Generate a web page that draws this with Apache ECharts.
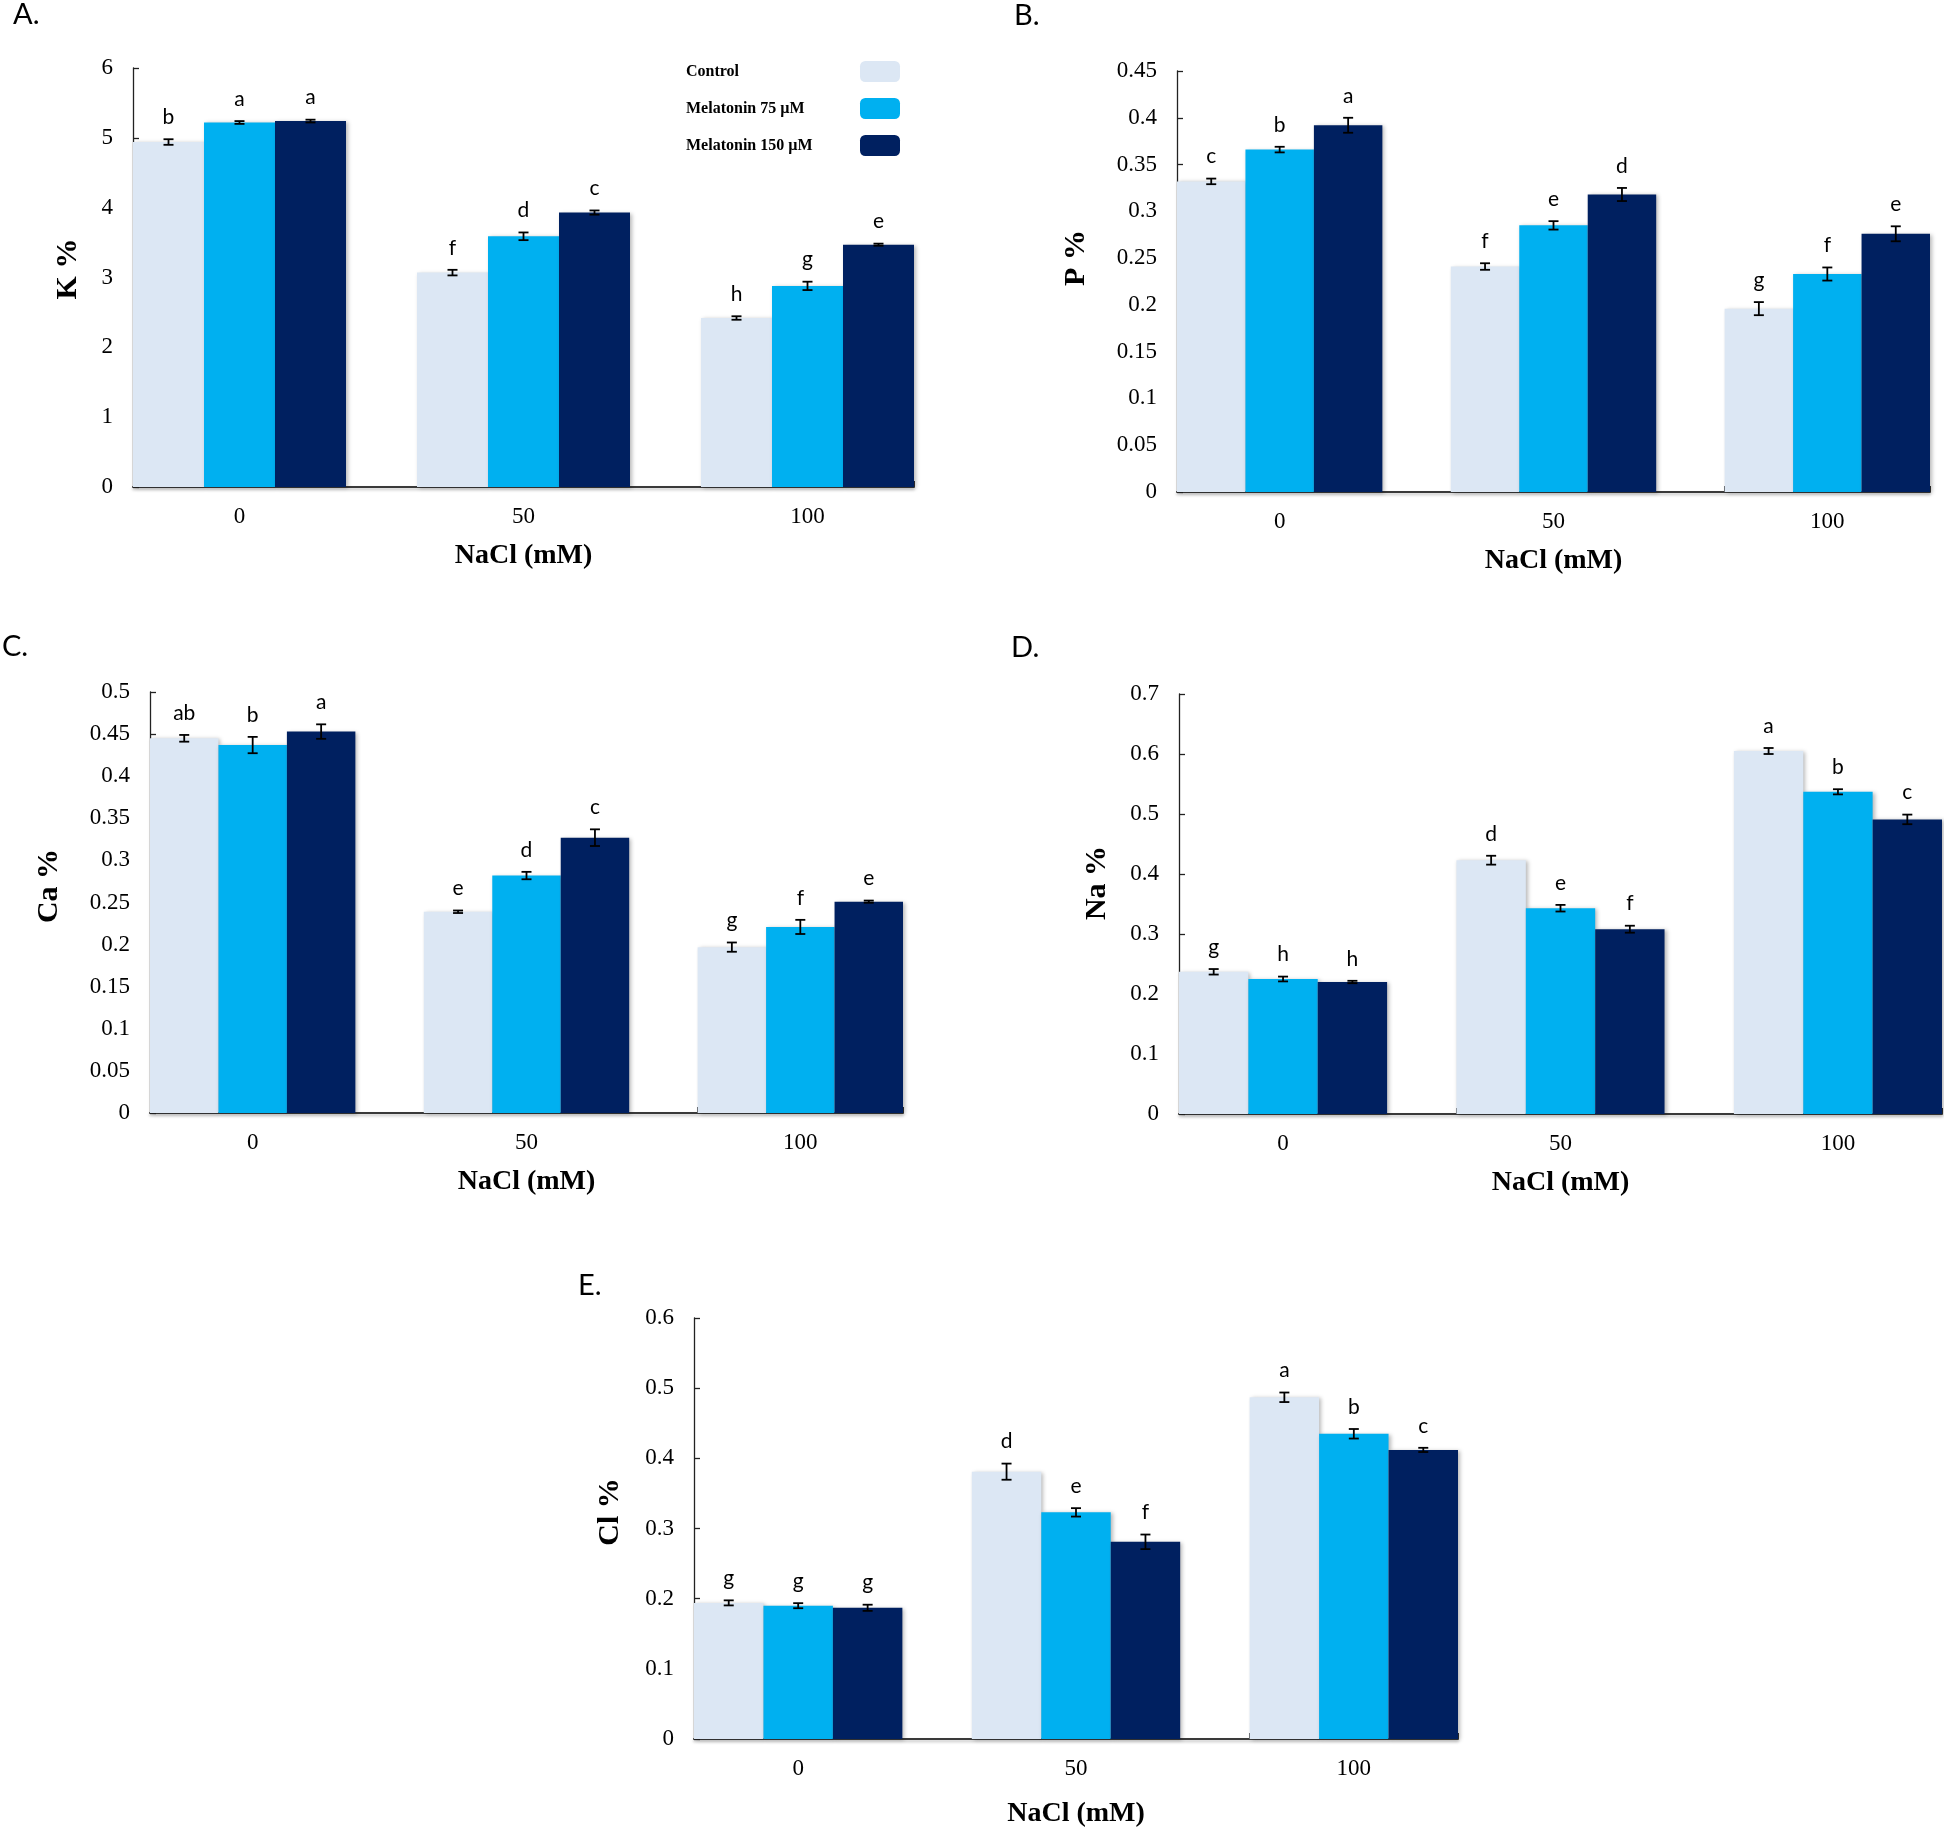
<!DOCTYPE html>
<html>
<head>
<meta charset="utf-8">
<script src="https://cdn.jsdelivr.net/npm/echarts@6.0.0/dist/echarts.min.js"></script>
<style>
html,body{margin:0;padding:0;background:#fff;}
#chart{width:1944px;height:1832px;}
</style>
</head>
<body>
<div id="chart"></div>
<script>
// ---------- data ----------
const xTickLabels = ['0', '50', '100'];           // NaCl (mM)
const seriesNames = ['Control', 'Melatonin 75 µM', 'Melatonin 150 µM'];

// K %
const K_control = [4.94, 3.07, 2.42];
const K_mel75   = [5.22, 3.59, 2.88];
const K_mel150  = [5.24, 3.93, 3.47];
const K_errControl = [0.04, 0.04, 0.025];
const K_errMel75   = [0.02, 0.055, 0.06];
const K_errMel150  = [0.02, 0.03, 0.015];
const K_letControl = ['b', 'f', 'h'];
const K_letMel75   = ['a', 'd', 'g'];
const K_letMel150  = ['a', 'c', 'e'];

// P %
const P_control = [0.332, 0.241, 0.196];
const P_mel75   = [0.366, 0.285, 0.233];
const P_mel150  = [0.392, 0.318, 0.276];
const P_errControl = [0.003, 0.0035, 0.007];
const P_errMel75   = [0.003, 0.0045, 0.007];
const P_errMel150  = [0.008, 0.007, 0.008];
const P_letControl = ['c', 'f', 'g'];
const P_letMel75   = ['b', 'e', 'f'];
const P_letMel150  = ['a', 'd', 'e'];

// Ca %
const Ca_control = [0.445, 0.239, 0.197];
const Ca_mel75   = [0.437, 0.282, 0.221];
const Ca_mel150  = [0.453, 0.327, 0.251];
const Ca_errControl = [0.004, 0.0015, 0.0055];
const Ca_errMel75   = [0.0097, 0.0044, 0.0084];
const Ca_errMel150  = [0.0086, 0.0099, 0.0013];
const Ca_letControl = ['ab', 'e', 'g'];
const Ca_letMel75   = ['b', 'd', 'f'];
const Ca_letMel150  = ['a', 'c', 'e'];

// Na %
const Na_control = [0.237, 0.423, 0.605];
const Na_mel75   = [0.225, 0.343, 0.537];
const Na_mel150  = [0.220, 0.308, 0.491];
const Na_errControl = [0.0046, 0.0074, 0.005];
const Na_errMel75   = [0.004, 0.0055, 0.0043];
const Na_errMel150  = [0.002, 0.0058, 0.008];
const Na_letControl = ['g', 'd', 'a'];
const Na_letMel75   = ['h', 'e', 'b'];
const Na_letMel150  = ['h', 'f', 'c'];

// Cl %
const Cl_control = [0.194, 0.381, 0.487];
const Cl_mel75   = [0.190, 0.323, 0.435];
const Cl_mel150  = [0.187, 0.281, 0.412];
const Cl_errControl = [0.0036, 0.0115, 0.0068];
const Cl_errMel75   = [0.0036, 0.006, 0.0068];
const Cl_errMel150  = [0.0044, 0.0104, 0.003];
const Cl_letControl = ['g', 'd', 'a'];
const Cl_letMel75   = ['g', 'e', 'b'];
const Cl_letMel150  = ['g', 'f', 'c'];

// y-axis ranges / tick intervals
const yMaxes = [6, 0.45, 0.5, 0.7, 0.6];
const yIntervals = [1, 0.05, 0.05, 0.1, 0.1];
const yNames = ['K %', 'P %', 'Ca %', 'Na %', 'Cl %'];
const panelTags = ['A.', 'B.', 'C.', 'D.', 'E.'];

// ---------- layout / style ----------
const colors = ['#DCE7F4', '#00B0F0', '#002060'];
const SERIF = '"Liberation Serif", "Times New Roman", serif';
const SANS = 'Lato, "Open Sans", sans-serif';
const HALF = 0.375;   // half group width in category units
const layouts = [
  {grid: {left: 133, top: 68, width: 781, height: 419}, yNamePos: [68, 269], tagPos: [13, 0], nameGap: 55},
  {grid: {left: 1177, top: 71, width: 753, height: 421}, yNamePos: [1076, 258], tagPos: [1014, 1], nameGap: 55},
  {grid: {left: 150, top: 692, width: 753, height: 421}, yNamePos: [49, 886], tagPos: [2, 632], nameGap: 55},
  {grid: {left: 1179, top: 694, width: 763, height: 420}, yNamePos: [1097, 883], tagPos: [1011, 633], nameGap: 55},
  {grid: {left: 694, top: 1318, width: 764, height: 421}, yNamePos: [610, 1512], tagPos: [578, 1271], nameGap: 61}
];
const panelData = [
  {vals: [K_control, K_mel75, K_mel150], errs: [K_errControl, K_errMel75, K_errMel150], lets: [K_letControl, K_letMel75, K_letMel150]},
  {vals: [P_control, P_mel75, P_mel150], errs: [P_errControl, P_errMel75, P_errMel150], lets: [P_letControl, P_letMel75, P_letMel150]},
  {vals: [Ca_control, Ca_mel75, Ca_mel150], errs: [Ca_errControl, Ca_errMel75, Ca_errMel150], lets: [Ca_letControl, Ca_letMel75, Ca_letMel150]},
  {vals: [Na_control, Na_mel75, Na_mel150], errs: [Na_errControl, Na_errMel75, Na_errMel150], lets: [Na_letControl, Na_letMel75, Na_letMel150]},
  {vals: [Cl_control, Cl_mel75, Cl_mel150], errs: [Cl_errControl, Cl_errMel75, Cl_errMel150], lets: [Cl_letControl, Cl_letMel75, Cl_letMel150]}
];

const grids = [], xAxes = [], yAxes = [], series = [], graphics = [];

layouts.forEach((L, p) => {
  grids.push(Object.assign({containLabel: false, outerBoundsMode: 'none'}, L.grid));
  xAxes.push({
    type: 'value', gridIndex: p, min: -HALF, max: xTickLabels.length - 1 + HALF,
    splitLine: {show: false},
    axisLine: {show: true, onZero: false, lineStyle: {color: '#3a3a3a', width: 2, shadowColor: 'rgba(0,0,0,0.25)', shadowBlur: 3, shadowOffsetY: 2}},
    axisTick: {show: true, inside: true, length: 6, lineStyle: {color: '#333'},
      customValues: [-HALF, 1 - HALF, 2 - HALF, 2 + HALF]},
    axisLabel: {customValues: [0, 1, 2], formatter: v => xTickLabels[Math.round(v)],
      fontFamily: SERIF, fontSize: 23, color: '#000', margin: 18},
    name: 'NaCl (mM)', nameLocation: 'middle', nameGap: L.nameGap,
    nameTextStyle: {fontFamily: SERIF, fontWeight: 'bold', fontSize: 28, color: '#000'}
  });
  yAxes.push({
    type: 'value', gridIndex: p, min: 0, max: yMaxes[p], interval: yIntervals[p],
    splitLine: {show: false},
    axisLine: {show: true, onZero: false, lineStyle: {color: '#222', width: 1.3}},
    axisTick: {show: true, inside: true, length: 6, lineStyle: {color: '#222', width: 1.3}},
    axisLabel: {fontFamily: SERIF, fontSize: 23, color: '#000', margin: 20}
  });
  const D = panelData[p];
  D.vals.forEach((arr, s) => {
    series.push({
      type: 'bar', name: seriesNames[s], xAxisIndex: p, yAxisIndex: p,
      barWidth: '25%', barGap: '0%',
      data: arr.map((v, j) => [j, v]),
      itemStyle: {color: colors[s], shadowColor: 'rgba(0,0,0,0.28)', shadowBlur: 4, shadowOffsetX: 2, shadowOffsetY: 1},
      emphasis: {disabled: true}, silent: true, z: 2
    });
  });
  // error bars + significance letters
  const items = [];
  D.vals.forEach((arr, s) => arr.forEach((v, j) => items.push([j, s, v, D.errs[s][j]])));
  const letters = [];
  D.vals.forEach((arr, s) => arr.forEach((v, j) => letters.push(D.lets[s][j])));
  series.push({
    type: 'custom', xAxisIndex: p, yAxisIndex: p, z: 5, silent: true,
    data: items,
    renderItem: (params, api) => {
      const xv = api.value(0) + (api.value(1) - 1) * 0.25;
      const v = api.value(2), e = api.value(3);
      const t = api.coord([xv, v + e]);
      const b = api.coord([xv, v - e]);
      const cap = 5;
      const st = {stroke: '#000', lineWidth: 1.8};
      return {type: 'group', children: [
        {type: 'line', shape: {x1: t[0], y1: t[1], x2: b[0], y2: b[1]}, style: st},
        {type: 'line', shape: {x1: t[0] - cap, y1: t[1], x2: t[0] + cap, y2: t[1]}, style: st},
        {type: 'line', shape: {x1: b[0] - cap, y1: b[1], x2: b[0] + cap, y2: b[1]}, style: st},
        {type: 'text', x: t[0], y: t[1] - 22, style: {text: letters[params.dataIndex], font: '21px ' + SANS, fill: '#000', align: 'center', verticalAlign: 'middle'}}
      ]};
    }
  });
  graphics.push({type: 'text', x: L.yNamePos[0], y: L.yNamePos[1], rotation: Math.PI / 2,
    style: {text: yNames[p], font: 'bold 30px ' + SERIF, fill: '#000', align: 'center', verticalAlign: 'middle'}});
  graphics.push({type: 'text', x: L.tagPos[0], y: L.tagPos[1],
    style: {text: panelTags[p], font: '29px ' + SANS, fill: '#000', align: 'left', verticalAlign: 'top'}});
});

const chart = echarts.init(document.getElementById('chart'), null, {renderer: 'canvas'});
chart.setOption({
  backgroundColor: '#fff',
  animation: false,
  grid: grids, xAxis: xAxes, yAxis: yAxes, series: series,
  graphic: graphics,
  legend: {
    orient: 'vertical', left: 681, top: 56, align: 'right',
    itemWidth: 40, itemHeight: 21, itemGap: 16, icon: 'roundRect',
    selectedMode: false, data: seriesNames,
    formatter: n => '{t|' + n + '}',
    textStyle: {rich: {t: {width: 169, align: 'left', fontFamily: SERIF, fontWeight: 'bold', fontSize: 16, color: '#000'}}}
  }
});
</script>
</body>
</html>
